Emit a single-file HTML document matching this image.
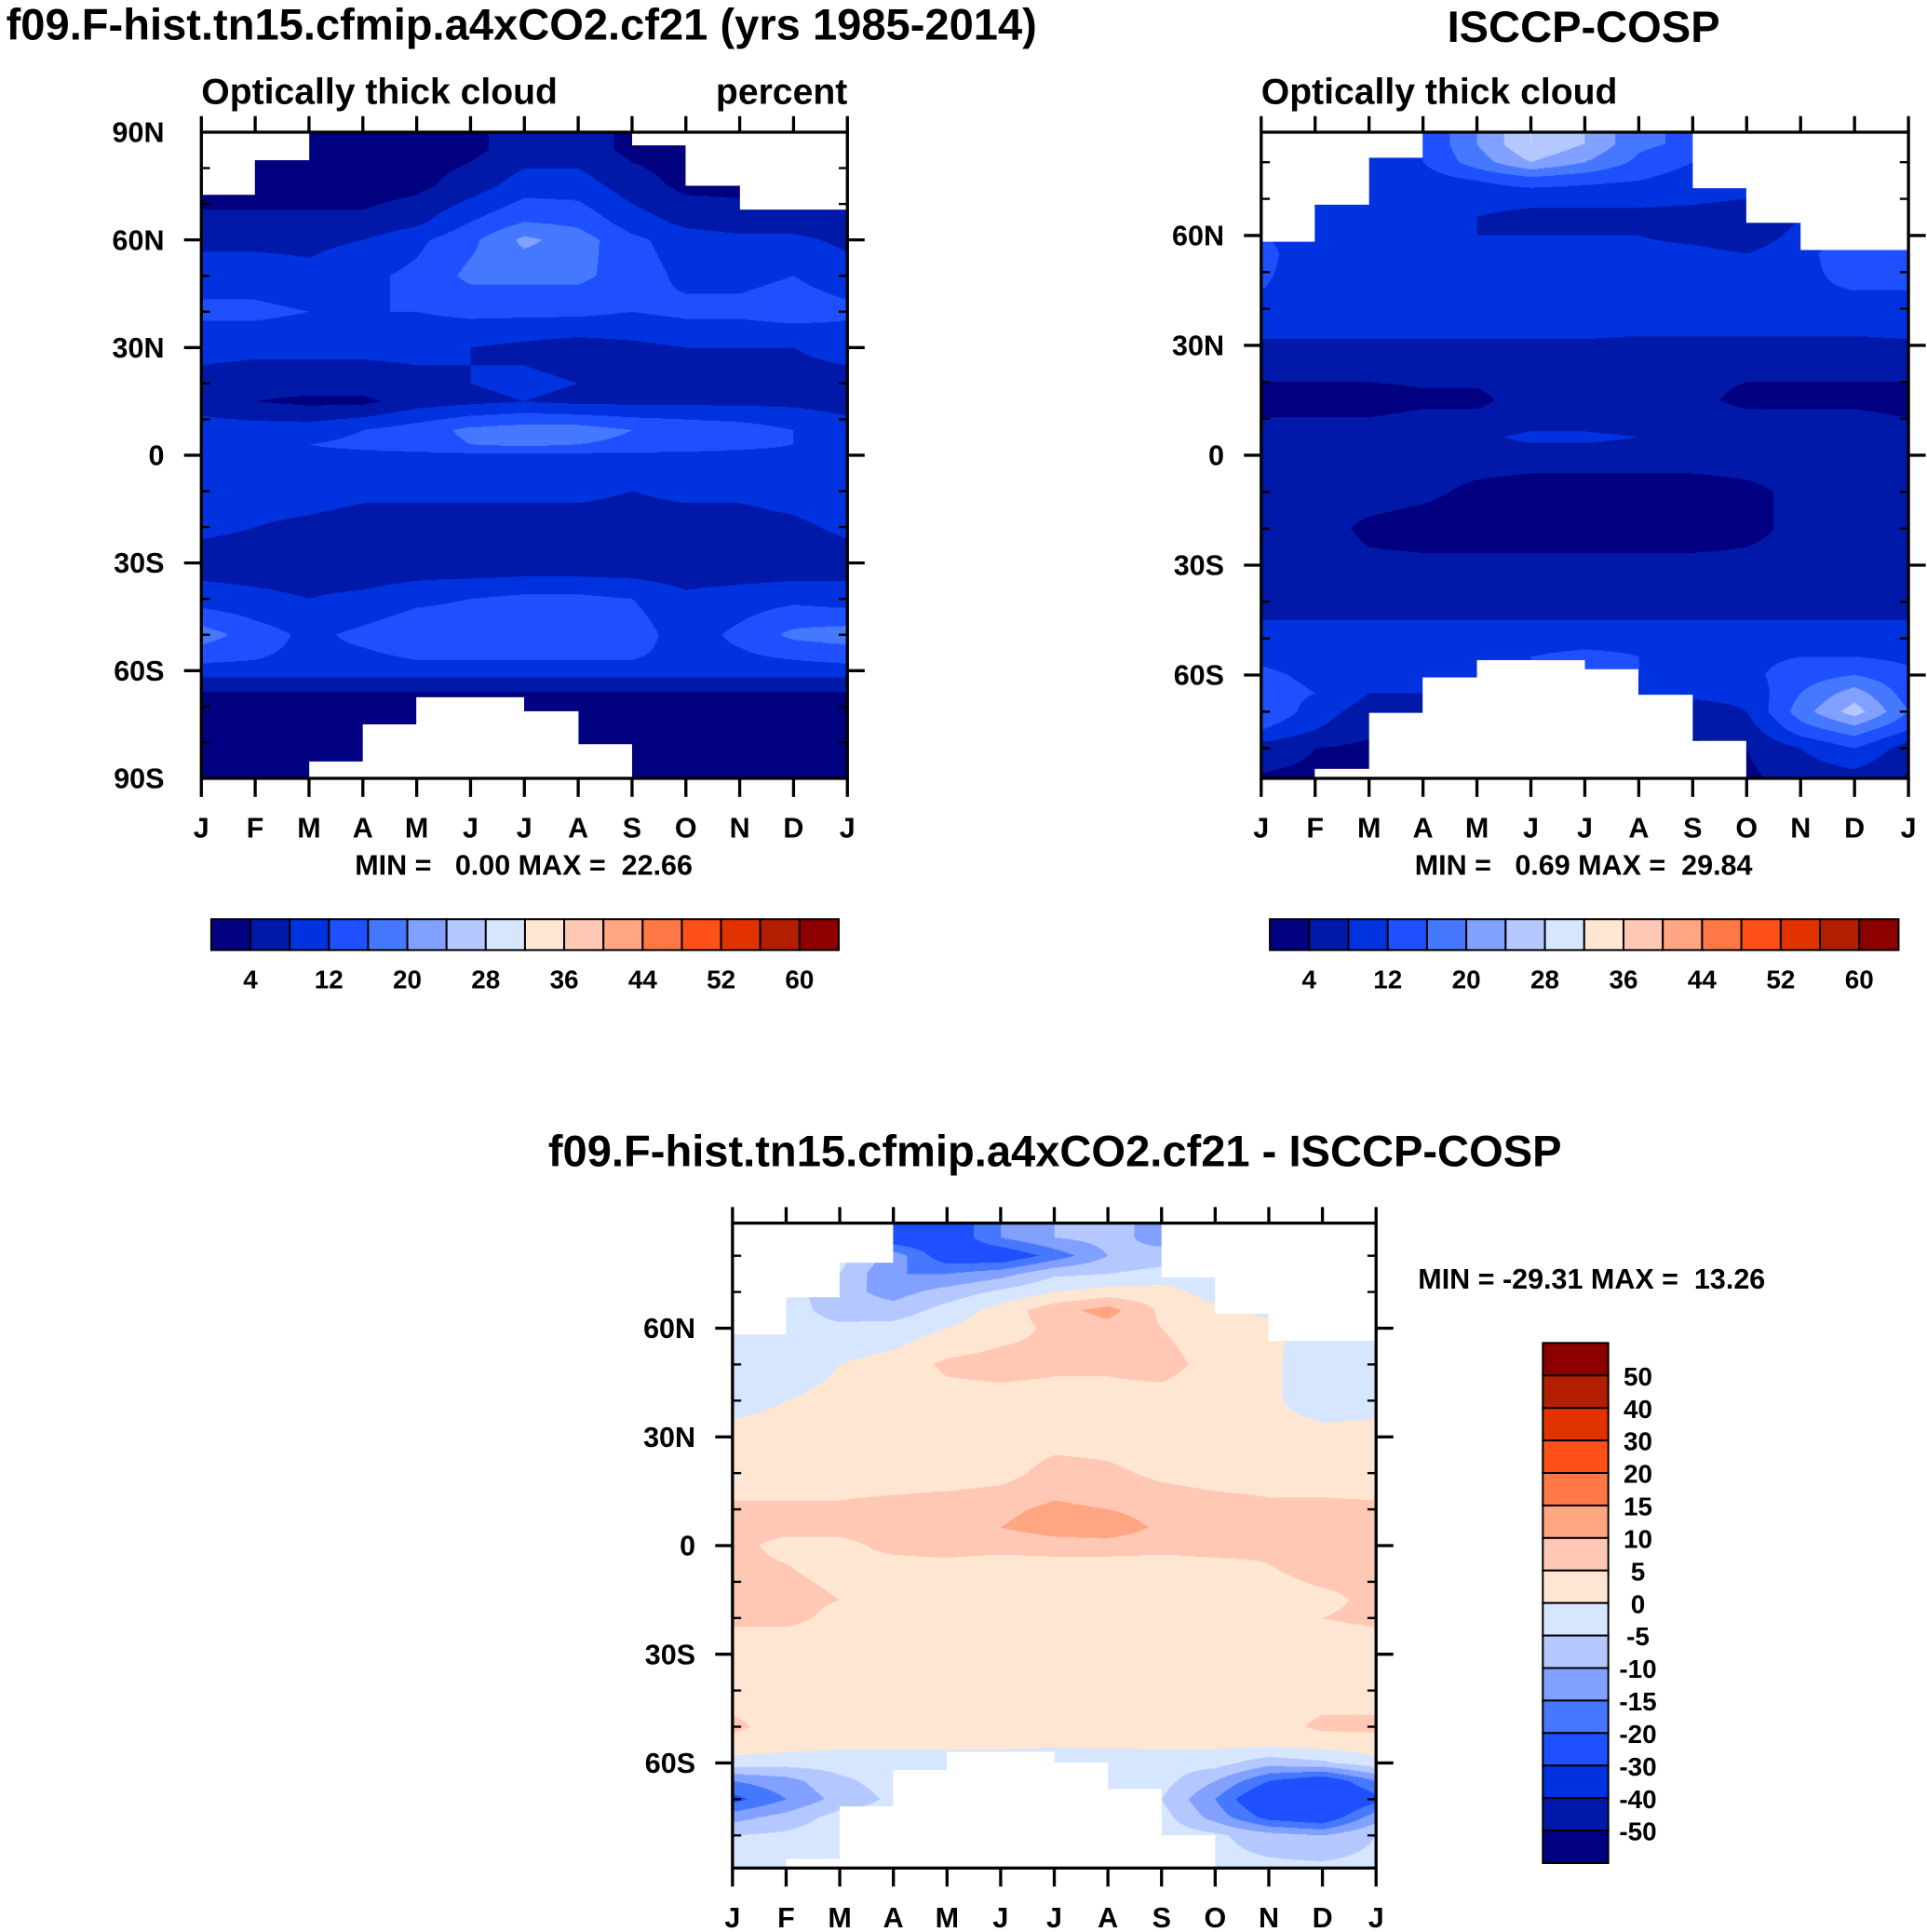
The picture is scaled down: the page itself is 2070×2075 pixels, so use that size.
<!DOCTYPE html>
<html><head><meta charset="utf-8"><style>
html,body{margin:0;padding:0;background:#fff;}
#wrap{position:relative;width:1560px;height:1564px;transform:scale(1.32692);transform-origin:0 0;font-family:"Liberation Sans",sans-serif;font-weight:bold;}
canvas{position:absolute;}
svg{position:absolute;left:0;top:0;}
svg text{white-space:pre;}
</style></head><body>
<div id="wrap">
<canvas id="c1"></canvas>
<canvas id="c2"></canvas>
<canvas id="c3"></canvas>
<svg id="s" width="1560" height="1564" viewBox="0 0 1560 1564"></svg>
</div>
<script>
const months=["J","F","M","A","M","J","J","A","S","O","N","D","J"];
const colors=["#000080","#0019a8","#0032e0","#1e50ff","#4678ff","#82a0ff","#b4c8ff","#d7e6ff","#ffe6d2","#ffc8b4","#ffa582","#ff7846","#ff5019","#e13200","#b41e00","#8c0000"];
const levelsAbs=[4,8,12,16,20,24,28,32,36,40,44,48,52,56,60];
const levelsDiff=[-50,-40,-30,-20,-15,-10,-5,0,5,10,15,20,30,40,50];
const barLabelsAbs=["4","12","20","28","36","44","52","60"];
const barLabelsDiff=["50","40","30","20","15","10","5","0","-5","-10","-15","-20","-30","-40","-50"];

const lats1=[90,85,75,65,60,50,40,30,20,15,7,3,0,-10,-20,-30,-40,-50,-57,-62,-68,-90];
const vals1=[
[2,2,2,2,2,3,6,6,3,2,2,2,2],
[2,2,2,2,2,3,6,6,3,2,2,2,2],
[2,2,2,2,3,6,10,10,6,3,3,3,2],
[5,5,5,5,7,12,16,15,10,7,6,6,5],
[7,7,7,8,11,15,21,18,13,10,9,9,7],
[10,10,9,11,13,17,17,17,14,11,11,12,10],
[13,13,12,12,12,13,13,13,12,13,13,14,13],
[9,9,9,9,9,8,7,6,7,8,8,8,9],
[7,6,6,6,7,8,9,8,7,7,7,7,7],
[6,4,3,3,6,7,8,7,7,7,7,7,6],
[10,10,10,12,14,17,18,18,16,15,14,12,10],
[12,12,12,13,14,16,17,16,15,14,13,12,12],
[11,11,11,11,11,11,11,11,11,11,11,11,11],
[12,10,10,9,9,9,9,9,8,9,9,10,12],
[9,8,7,6,6,6,6,6,6,6,6,7,9],
[6,6,6,5,5,5,5,5,5,5,5,5,6],
[10,9,8,9,11,12,13,13,12,9,10,11,10],
[18,14,11,13,15,15,15,15,14,10,13,17,18],
[13,12,11,11,12,12,12,12,12,11,11,12,13],
[8,8,8,8,8,8,8,8,8,8,8,8,8],
[2,2,2,2,2,2,2,2,2,2,2,2,2],
[2,2,2,2,2,2,2,2,2,2,2,2,2]];
const north1=[72.6,82.2,91,91,91,91,91,91,86.4,75,68.5,68.5];
const south1=[-91,-91,-85.3,-75,-67.4,-67.4,-71.2,-80.5,-91,-91,-91,-91];

const lats2=[90,85,80,75,70,65,60,55,45,35,25,15,8,5,0,-10,-20,-30,-40,-45,-50,-55,-60,-65,-70,-75,-80,-90];
const vals2=[
[10,10,10,12,20,28,24,17,15,8,8,8,10],
[10,10,10,12,20,28,24,17,15,8,8,8,10],
[10,10,10,12,18,24,20,15,12,8,8,8,10],
[10,10,10,10,12,14,13,12,10,8,8,8,10],
[10,10,10,9,9,9,9,9,9,8,8,9,10],
[10,9,8,8,8,7,7,7,6,5,8,10,10],
[12,11,9,8,8,8,8,8,7,6,9,12,12],
[13,10,9,9,9,9,9,9,9,8,10,16,13],
[12,11,11,11,10,10,10,10,10,10,11,12,12],
[9,9,9,9,9,9,9,9,9,9,9,9,9],
[6,6,6,6,6,6,6,5,5,5,5,5,6],
[2,2,2,3,3,6,6,6,5,3,3,3,2],
[5,5,5,6,6,7,7,6,6,6,6,6,5],
[6,6,6,6,7,9,9,8,7,7,6,6,6],
[6,6,6,6,6,6,6,6,6,6,6,6,6],
[6,6,6,5,3,2,2,2,2,3,5,6,6],
[6,6,3,2,2,2,2,2,2,3,5,6,6],
[6,6,5,5,5,5,5,5,5,5,5,6,6],
[7,7,7,7,7,7,7,7,7,7,7,7,7],
[8,8,8,8,8,8,8,8,8,8,8,8,8],
[9,9,9,9,9,9,9,10,9,9,9,9,9],
[11,10,9,9,10,12,14,12,11,11,12,12,11],
[13,11,10,10,10,12,14,12,11,11,14,16,13],
[14,12,8,8,8,10,10,10,9,9,16,22,14],
[16,10,6,6,6,6,6,6,6,8,18,26,16],
[12,8,5,5,5,5,5,5,5,6,14,18,12],
[6,4,3,3,3,3,3,3,3,4,8,12,6],
[3,3,2,2,2,2,2,2,2,3,5,5,3]];
const north2=[58.3,68.4,81.2,91,91,91,91,91,73,63.4,56,56];
const south2=[-91,-85.6,-70.4,-60.7,-56,-56,-58.3,-65.4,-77.9,-91,-91,-91];

const lats3=[90,85,80,75,70,65,60,50,40,30,20,10,5,0,-5,-15,-20,-30,-40,-50,-55,-60,-65,-70,-75,-80,-90];
const vals3=[
[-3,-3,-3,-25,-25,-15,-10,-8,-12,-3,-3,-3,-3],
[-3,-3,-3,-25,-25,-15,-10,-8,-12,-3,-3,-3,-3],
[-3,-3,-3,-12,-24,-25,-18,-10,-8,-3,-3,-3,-3],
[-3,-3,-5,-15,-15,-12,-6,-5,-3,-3,-3,-3,-3],
[-3,-3,-8,-12,-8,-4,0,2,2,-2,-2,-3,-3],
[-2,-3,-7,-8,-3,2,8,12,4,1,-1,-2,-2],
[-2,-3,-4,-3,0,3,6,8,5,2,1,-2,-2],
[-3,-2,0,2,6,7,6,6,7,3,1,-3,-3],
[-2,0,1,2,3,3,3,3,3,2,1,-3,-2],
[2,2,2,2,2,2,3,3,2,2,2,2,2],
[2,2,2,2,2,3,7,6,4,3,3,3,2],
[6,6,6,7,8,9,11,10,8,7,6,6,6],
[6,6,6,7,8,10,12,13,9,7,6,6,6],
[6,4,4,6,7,7,8,8,7,7,6,6,6],
[6,5,4,4,4,3,3,3,3,4,5,7,6],
[6,6,5,3,2,2,2,2,2,2,3,4,6],
[6,6,4,2,2,2,2,2,2,2,2,5,6],
[2,2,2,2,2,2,2,2,2,2,2,2,2],
[3,2,2,2,2,3,5,5,3,2,2,3,3],
[6,3,2,2,2,2,2,2,2,2,3,6,6],
[3,2,1,1,1,1,1,1,1,1,1,2,3],
[-2,-3,-3,-3,-3,-3,-5,-4,-3,-3,-8,-6,-2],
[-15,-12,-6,-3,-3,-3,-3,-3,-3,-10,-20,-25,-15],
[-22,-15,-8,-4,-4,-4,-4,-4,-5,-15,-28,-30,-22],
[-12,-8,-3,-3,-3,-3,-3,-3,-3,-12,-22,-25,-12],
[-5,-4,-2,-2,-2,-2,-2,-2,-2,-4,-8,-10,-5],
[-3,-3,-2,-2,-2,-2,-2,-2,-2,-3,-3,-3,-3]];
const north3=[58.3,68.5,78,91,91,91,91,91,74,64,56.6,56.6];
const south3=[-91,-86.6,-72,-62,-57,-57,-60,-67.2,-80,-91,-91,-91];

function sample(lats,vals,lat,mf){
  let i=0;while(i<lats.length-2&&lat<lats[i+1])i++;
  let t=(lats[i]-lat)/(lats[i]-lats[i+1]);t=Math.max(0,Math.min(1,t));
  let j=Math.min(11,Math.floor(mf));let u=mf-j;
  const a=vals[i][j]*(1-u)+vals[i][j+1]*u, b=vals[i+1][j]*(1-u)+vals[i+1][j+1]*u;
  return a*(1-t)+b*t;
}
function level(v,lv){let k=0;while(k<lv.length&&v>=lv[k])k++;return k;}
function drawField(id,x,y,w,h,latTop,latBot,lats,vals,north,south,lv){
  const c=document.getElementById(id);const R=3;
  c.width=w*R;c.height=h*R;c.style.left=x+'px';c.style.top=y+'px';c.style.width=w+'px';c.style.height=h+'px';
  const g=c.getContext('2d');const st=2;
  for(let py=0;py<h*R;py+=st){
    const lat=latTop-(py+st/2)/(h*R)*(latTop-latBot);
    for(let px=0;px<w*R;px+=st){
      const mf=(px+st/2)/(w*R)*12;const k=Math.min(11,Math.floor(mf));
      if(lat>north[k]||lat<south[k])continue;
      g.fillStyle=colors[level(sample(lats,vals,lat,mf),lv)];
      g.fillRect(px,py,st,st);
    }
  }
}
drawField('c1',163,107,523,523,90,-90,lats1,vals1,north1,south1,levelsAbs);
drawField('c2',1021,107,524,523,88.2,-88.2,lats2,vals2,north2,south2,levelsAbs);
drawField('c3',593,990,521,522,89,-89,lats3,vals3,north3,south3,levelsDiff);

const S=document.getElementById('s');const NS='http://www.w3.org/2000/svg';
function el(t,a,txt){const e=document.createElementNS(NS,t);for(const k in a)e.setAttribute(k,a[k]);if(txt!==undefined)e.textContent=txt;S.appendChild(e);return e;}
function txt(x,y,s,size,anchor,name){const e=el('text',{x:x,y:y,'font-size':size,'text-anchor':anchor||'start','font-family':'Liberation Sans, sans-serif','font-weight':'bold',fill:'#000'},s);

return e;}
function line(x1,y1,x2,y2,w){return el('line',{x1:x1,y1:y1,x2:x2,y2:y2,stroke:'#000','stroke-width':w||2});}

function axes(p,x,y,w,h,latTop,latBot,ylabels,ylabLats){
  const r=el('rect',{x:x,y:y,width:w,height:h,fill:'none',stroke:'#000','stroke-width':2.5});
  
  
  const yOf=l=>y+(latTop-l)/(latTop-latBot)*h;
  for(let l=80;l>=-80;l-=10){
    if(l>latTop||l<latBot)continue;
    const yy=yOf(l);
    if(l%30===0){line(x-14,yy,x,yy,2.5);line(x+w,yy,x+w+14,yy,2.5);}
    else{line(x,yy,x+7,yy,1.8);line(x+w-7,yy,x+w,yy,1.8);}
  }
  ylabLats.forEach((l,i)=>{txt(x-30,yOf(l)+8,ylabels[i],23,'end',p+'-y-tick-label');});
  for(let m=0;m<13;m++){
    const xx=x+m*w/12;line(xx,y-13,xx,y,2.5);line(xx,y+h,xx,y+h+15,2.5);
    txt(xx,y+h+48,months[m],23,'middle',p+'-x-tick-label');
  }
}
axes('model',163,107,523,523,90,-90,["90N","60N","30N","0","30S","60S","90S"],[90,60,30,0,-30,-60,-90]);
axes('isccp',1021,107,524,523,88.2,-88.2,["60N","30N","0","30S","60S"],[60,30,0,-30,-60]);
axes('diff',593,990,521,522,89,-89,["60N","30N","0","30S","60S"],[60,30,0,-30,-60]);

txt(5,32,"f09.F-hist.tn15.cfmip.a4xCO2.cf21 (yrs 1985-2014)",35.5,'start','left-panel-title');
txt(1282,34,"ISCCP-COSP",35.5,'middle','right-panel-title');
txt(163,84,"Optically thick cloud",29.5,'start','left-panel-variable');
txt(686,84,"percent",29.5,'end','left-panel-units');
txt(1021,84,"Optically thick cloud",29.5,'start','right-panel-variable');
txt(424,708,"MIN =   0.00 MAX =  22.66",23,'middle','left-min-max');
txt(1282,708,"MIN =   0.69 MAX =  29.84",23,'middle','right-min-max');
txt(854,944,"f09.F-hist.tn15.cfmip.a4xCO2.cf21 - ISCCP-COSP",35.5,'middle','difference-title');
txt(1148,1043,"MIN = -29.31 MAX =  13.26",23,'start','difference-min-max');

function hbar(p,x,y,w,h){
  const bw=w/16;
  for(let i=0;i<16;i++){const r=el('rect',{x:x+i*bw,y:y,width:bw,height:h,fill:colors[i],stroke:'#000','stroke-width':1.5});
  
  }
  barLabelsAbs.forEach((s,k)=>{txt(x+(2*k+1)*bw,y+h+31,s,21,'middle',p+'-colorbar-label');});
}
hbar('left',171,744,508,25);
hbar('right',1028,744,509,25);
(function(){const x=1249,y=1087,w=53,h=421,bh=h/16;
  for(let i=0;i<16;i++){const r=el('rect',{x:x,y:y+i*bh,width:w,height:bh,fill:colors[15-i],stroke:'#000','stroke-width':1.5});
  
  }
  barLabelsDiff.forEach((s,k)=>{txt(1326,y+(k+1)*bh+8,s,21,'middle','difference-colorbar-label');});
})();
</script>
</body></html>
